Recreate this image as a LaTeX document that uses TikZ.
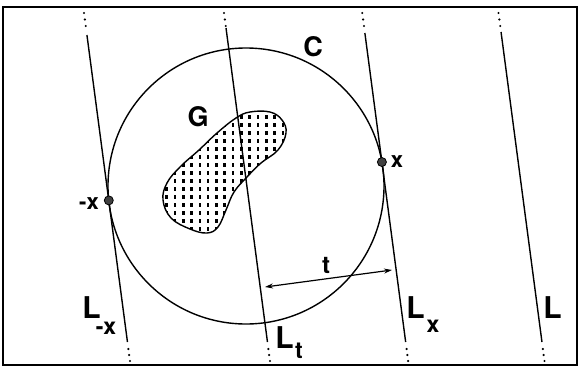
\documentclass[tikz,border=0pt]{standalone}
\usepackage{fontspec}
\setmainfont{TeX Gyre Heros}
\usetikzlibrary{arrows.meta,calc}
\tikzset{
  geo/.style={line width=1.4pt, black},
  lbl/.style={inner sep=0pt, font=\bfseries\fontsize{#1}{#1}\selectfont},
  dotmark/.style={circle, fill=black!75, draw=black, line width=0.8pt, minimum size=9pt, inner sep=0pt},
}
\begin{document}
\begin{tikzpicture}[x=1pt,y=-1pt]
\useasboundingbox (0,0) rectangle (580,369);
% frame
\draw[line width=2.2pt] (3,7) rectangle (577,365);
% parallel lines
\foreach \nm/\xc/\ya in {lmx/107/35, lt/247/28, lx/385.2/33, ll/521.5/32}{
  \coordinate (\nm-top) at ({\xc+0.132*(\ya-187)}, \ya);
  \coordinate (\nm-bot) at ({\xc+0.132*(342-187)}, 342);
  \draw[geo] (\nm-top) -- (\nm-bot);
  \foreach \yy in {13,19.5,26}{
    \fill ({\xc+0.132*(\yy-187)}, \yy) circle (1.2pt);
  }
  \foreach \yy in {349,355,361}{
    \fill ({\xc+0.132*(\yy-187)}, \yy) circle (1.2pt);
  }
}
% circle C
\coordinate (cc) at (246,186);
\draw[geo] (cc) circle (138pt);
% blob G
\def\blobpath{plot[smooth cycle, tension=0.65] coordinates {(250,112) (270,112) (282,120) (286,133) (278,150) (261,163) (247,177) (234,192) (226,210) (218,227) (207,233) (190,229) (171,218) (163,200) (167,183) (180,167) (199,150) (217,133) (236,118)}}
\begin{scope}
  \clip \blobpath;
  \foreach \j in {0,...,15}{
    \foreach \i in {0,...,16}{
      \pgfmathsetmacro{\xo}{157+\i*8.3}
      \pgfmathsetmacro{\yo}{107+\j*8}
      \fill (\xo,\yo) rectangle +(2.6,3.8);
    }
  }
\end{scope}
\draw[geo] \blobpath;
% points x and -x
\node[dotmark] (px) at ($(cc)+(10:138pt)$) {};
\node[dotmark] (mx) at (108.8,200.4) {};
% arrow t
\coordinate (ta) at (265,287);
\coordinate (tb) at (392,270);
\draw[line width=1.2pt, {Stealth[length=8pt,width=5pt]}-{Stealth[length=8pt,width=5pt]}] (ta) -- (tb);
% labels
\node[lbl=27] (labC) at (313,47) {C};
\node[lbl=27] (labG) at (198,117) {G};
\node[lbl=22] (labx) at (397,162) {x};
\node[lbl=22] (labmx) at (89,204) {-x};
\node[lbl=24] (labt) at (326,265) {t};
\node[lbl=30] (labLmx) at (91.5,307.5) {L};
\node[lbl=23] (labLmxs) at (106,328) {-x};
\node[lbl=30] (labLt) at (284.5,337.5) {L};
\node[lbl=23] (labLts) at (299,351) {t};
\node[lbl=30] (labLx) at (415.5,307.5) {L};
\node[lbl=23] (labLxs) at (433,326) {x};
\node[lbl=30] (labL) at (552.5,307.5) {L};
\end{tikzpicture}
\end{document}
